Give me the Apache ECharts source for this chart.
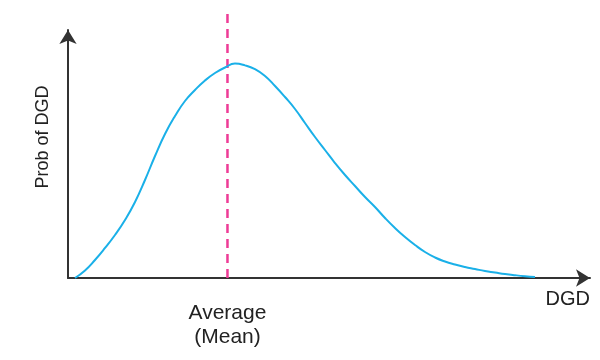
<!DOCTYPE html>
<html>
<head>
<meta charset="utf-8">
<script src="https://cdn.jsdelivr.net/npm/echarts@6/dist/echarts.min.js"></script>
<style>html,body{margin:0;padding:0;background:#fff}#c{width:600px;height:360px}</style>
</head>
<body>
<div id="c"></div>
<script>
// Distribution curve (x: DGD, y: probability)
var curveX = [1.34, 3.26, 5.17, 7.09, 9.00, 10.92, 12.84, 14.75, 16.67, 18.58, 20.50, 22.41, 24.33, 26.25, 28.16, 30.08, 31.99, 33.91, 35.82, 37.74, 39.66, 41.57, 43.49, 45.40, 47.32, 49.23, 51.15, 53.07, 54.98, 56.90, 58.81, 60.73, 62.64, 64.56, 66.48, 68.39, 70.31, 72.22, 74.14, 76.05, 77.97, 79.89, 81.80, 83.72, 85.63, 87.55, 89.46];
var curveY = [0, 3.02, 7.26, 12.10, 17.34, 23.39, 30.65, 39.52, 49.19, 58.06, 65.32, 71.37, 75.81, 79.64, 82.66, 84.88, 86.45, 85.75, 84.20, 81.45, 77.42, 72.98, 68.15, 62.50, 56.85, 51.61, 46.37, 41.53, 37.10, 32.66, 28.63, 24.19, 20.16, 16.53, 13.31, 10.48, 8.27, 6.65, 5.44, 4.44, 3.63, 2.82, 2.22, 1.61, 1.13, 0.73, 0.44];
var meanX = 30.55;
var meanLineY = [0, 106.5];
var xLabel = 'Average\n(Mean)';
var xName = 'DGD';
var yName = 'Prob of DGD';

var curveData = curveX.map(function (x, i) { return [x, curveY[i]]; });
var meanData = meanLineY.map(function (y) { return [meanX, y]; });

var chart = echarts.init(document.getElementById('c'), null, { renderer: 'canvas' });
var font = 'Liberation Sans, Arial, Helvetica, sans-serif';
chart.setOption({
  animation: false,
  grid: { left: 68, right: 10, top: 30, bottom: 82 },
  xAxis: {
    type: 'value', min: 0, max: 100,
    name: xName, nameLocation: 'end', nameGap: 0,
    nameTextStyle: { color: '#222', fontSize: 20, fontFamily: font, align: 'right', verticalAlign: 'top', padding: [11, 0, 0, 0] },
    axisLine: { show: true, symbol: ['none', 'arrow'], symbolSize: [13, 14], lineStyle: { color: '#333', width: 2 } },
    axisTick: { show: false },
    splitLine: { show: false },
    axisLabel: { customValues: [meanX], formatter: function () { return xLabel; }, color: '#222', fontSize: 21, fontFamily: font, margin: 23, lineHeight: 24 }
  },
  yAxis: {
    type: 'value', min: 0, max: 100,
    name: yName, nameLocation: 'middle', nameGap: 16,
    nameTextStyle: { color: '#222', fontSize: 18, fontFamily: font, padding: [0, 0, 0, 34] },
    axisLine: { show: true, symbol: ['none', 'arrow'], symbolSize: [13, 14], lineStyle: { color: '#333', width: 2 } },
    axisTick: { show: false },
    splitLine: { show: false },
    axisLabel: { show: false }
  },
  series: [
    {
      type: 'line', data: meanData, symbol: 'none', clip: false, silent: true,
      lineStyle: { color: '#ee3b96', width: 2.5, type: [9, 6] }, z: 2
    },
    {
      type: 'line', data: curveData, symbol: 'none', smooth: 0.5, clip: false,
      lineStyle: { color: '#1ab0e8', width: 2 }, z: 3
    }
  ]
});
</script>
</body>
</html>
